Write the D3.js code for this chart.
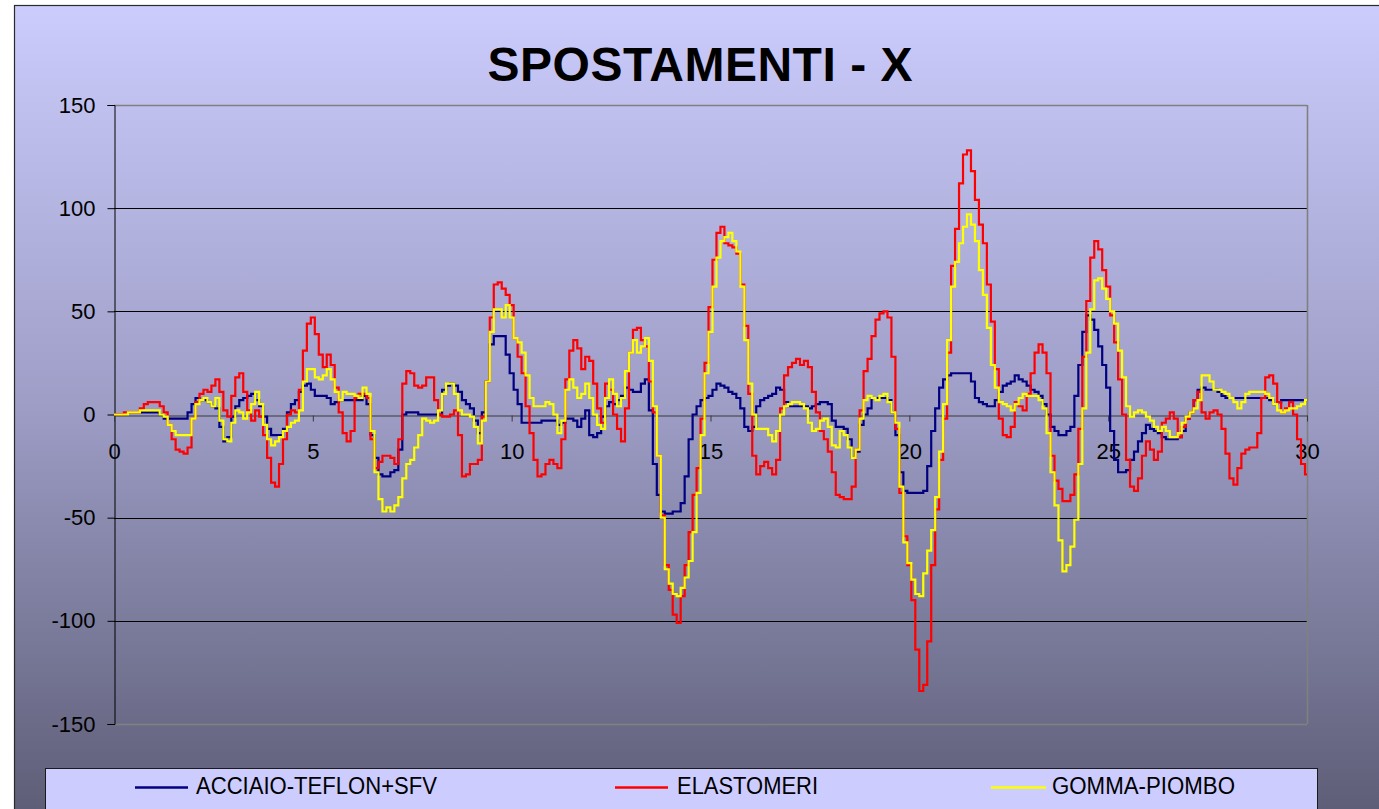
<!DOCTYPE html>
<html>
<head>
<meta charset="utf-8">
<script src="https://cdn.jsdelivr.net/npm/d3@7"></script>
<style>
  html, body { margin: 0; padding: 0; background: #ffffff; overflow: hidden; }
  svg { display: block; font-family: Arial, "Liberation Sans", sans-serif; }
</style>
</head>
<body>
<svg id="chart" width="1379" height="809"></svg>
<script>
// Time axis (s), sampled every 0.1 s from 0 to 30
const timeStep = 0.1;
const xTicks = [0, 5, 10, 15, 20, 25, 30];
const yTicks = [-150, -100, -50, 0, 50, 100, 150];

const seriesNames = ["ACCIAIO-TEFLON+SFV", "ELASTOMERI", "GOMMA-PIOMBO"];
const seriesColors = ["#000080", "#ff0000", "#ffff00"];

// ACCIAIO-TEFLON+SFV
const acciaio = [
  0,0,0,0,1,1,1,1,1,1,
  1,1,0,-2,-2,-2,-2,-2,-2,1,
  5,8,7,7,6,4,3,-6,-13,-11,
  -1,4,7,8,9,10,7,4,-1,-7,
  -10,-10,-10,-7,1,5,7,11,14,15,
  12,9,9,9,8,5,6,7,7,7,
  7,7,7,9,5,-10,-21,-29,-30,-30,
  -28,-27,-17,0,1,1,1,0,0,0,
  0,0,0,12,14,15,14,11,7,5,
  3,-3,-9,1,16,34,38,38,38,29,
  20,12,5,-4,-4,-4,-4,-4,-3,-3,
  -3,-3,-5,-4,-2,-2,-3,-6,-2,2,
  -10,-11,-9,-1,4,6,5,7,9,13,
  12,11,11,15,17,2,-24,-39,-47,-48,
  -48,-47,-47,-43,-30,-12,0,4,7,8,
  9,12,15,14,13,11,10,8,3,-6,
  -8,-6,4,7,8,9,10,13,12,6,
  4,4,4,4,4,3,4,5,6,6,
  5,-3,-6,-6,-7,-12,-21,-18,-5,0,
  3,8,8,8,8,7,1,-10,-28,-37,
  -38,-38,-38,-38,-37,-25,-8,3,13,17,
  19,20,20,20,20,20,16,8,6,5,
  4,4,7,11,14,15,16,19,17,16,
  14,12,11,9,5,0,-6,-8,-10,-10,
  -8,-6,9,24,40,48,46,41,33,24,
  13,-8,-22,-28,-28,-27,-22,-18,-13,-9,
  -5,-7,-8,-9,-11,-12,-12,-12,-11,-8,
  -2,1,7,12,13,12,12,12,11,9,
  8,8,8,8,8,8,8,8,8,8,
  8,7,5,6,7,7,7,7,7,7,
  7
];

// ELASTOMERI
const elastomeri = [
  0,0,0,1,1,1,1,3,5,6,
  6,6,4,1,-5,-12,-17,-18,-19,-16,
  -2,6,10,12,11,14,17,11,2,-1,
  9,18,20,11,2,-3,2,-1,-10,-21,
  -33,-35,-24,-12,0,2,1,12,31,44,
  47,39,29,23,29,24,13,1,-9,-13,
  -8,8,10,10,8,-12,-26,-23,-20,-20,
  -21,-24,-12,15,21,20,14,13,14,18,
  18,7,0,-1,-1,0,2,-10,-30,-29,
  -24,-24,-22,-1,16,47,63,64,61,58,
  53,37,28,20,4,-9,-22,-30,-29,-24,
  -22,-24,-26,-12,17,31,36,32,22,28,
  26,15,3,-4,15,12,0,-7,-13,3,
  30,41,42,36,33,16,1,-20,-49,-73,
  -85,-97,-101,-88,-73,-57,-39,-26,-2,25,
  52,75,88,91,83,82,81,78,63,43,
  10,-20,-29,-25,-23,-26,-29,-22,3,19,
  23,25,27,24,26,23,11,1,-8,-12,
  -18,-28,-39,-40,-41,-41,-35,-17,2,21,
  27,38,46,49,50,47,28,-7,-38,-59,
  -73,-90,-114,-134,-131,-110,-73,-46,-22,-2,
  30,72,90,112,126,128,118,104,92,83,
  63,45,22,-2,-10,-11,-6,6,4,2,
  10,20,30,34,30,20,-20,-32,-36,-42,
  -42,-39,-29,-7,28,55,76,84,80,70,
  62,48,35,17,0,-22,-35,-37,-31,-20,
  -13,-17,-22,-18,-4,-2,1,-2,-11,-6,
  -2,1,7,11,1,-2,1,2,0,-7,
  -19,-31,-34,-26,-19,-17,-16,-16,-9,8,
  18,19,15,6,1,3,6,0,-12,-24,
  -29
];

// GOMMA-PIOMBO
const gomma = [
  0,0,0,0,1,1,1,2,2,2,
  2,2,0,-1,-5,-8,-10,-10,-10,-10,
  -2,5,7,8,6,4,8,-3,-12,-13,
  -4,2,1,-2,1,5,11,5,-5,-12,
  -15,-13,-11,-8,-6,-4,-3,2,16,22,
  22,18,17,19,22,17,11,7,11,10,
  10,9,8,13,10,-8,-28,-41,-47,-45,
  -47,-44,-40,-31,-24,-22,-16,-10,-2,-3,
  -4,-3,2,10,15,15,10,2,0,0,
  -1,-6,-14,-3,16,40,51,51,47,53,
  47,37,35,30,19,8,4,4,4,6,
  5,0,-9,-3,12,17,13,8,10,15,
  8,0,-5,-7,8,17,10,4,8,21,
  30,36,30,33,37,26,4,-20,-50,-75,
  -82,-87,-88,-84,-79,-71,-57,-38,-10,20,
  40,62,76,84,86,88,84,79,62,36,
  15,0,-7,-7,-7,-10,-13,-8,0,4,
  5,6,6,5,3,-4,-8,-7,-3,-2,
  -6,-15,-16,-8,-10,-16,-21,-17,-2,7,
  9,8,7,9,10,6,1,-4,-35,-62,
  -72,-80,-87,-88,-77,-66,-56,-40,-18,5,
  36,62,74,83,91,97,92,84,70,58,
  42,24,13,6,5,4,2,5,8,10,
  9,9,9,7,3,-9,-28,-44,-61,-76,
  -73,-64,-51,-24,3,30,51,65,66,61,
  56,50,44,31,18,4,-1,1,2,1,
  -1,-3,-6,-8,-6,-8,-11,-11,-9,-4,
  -1,1,3,7,19,19,16,12,12,11,
  10,8,6,3,6,10,11,11,11,11,
  10,8,5,2,1,2,3,3,4,5,
  7
];

const allSeries = [acciaio, elastomeri, gomma];

const W = 1379, H = 809;
const svg = d3.select("#chart");

// Plain hyphen for negative tick labels
const tickFmt = d => String(d);

// Background gradient of the chart area
const defs = svg.append("defs");
const grad = defs.append("linearGradient")
  .attr("id", "bgGrad")
  .attr("gradientUnits", "userSpaceOnUse")
  .attr("x1", 0).attr("y1", 5).attr("x2", 0).attr("y2", 809);
grad.append("stop").attr("offset", "0%").attr("stop-color", "#ccccfd");
grad.append("stop").attr("offset", "50%").attr("stop-color", "#9d9dc6");
grad.append("stop").attr("offset", "100%").attr("stop-color", "#5e5e78");

svg.append("rect")
  .attr("x", 0).attr("y", 0).attr("width", W).attr("height", H)
  .attr("fill", "#ffffff");

svg.append("rect")
  .attr("x", 14.5).attr("y", 5.5)
  .attr("width", W + 20).attr("height", H + 20)
  .attr("fill", "url(#bgGrad)")
  .attr("stroke", "#2a2a2a").attr("stroke-width", 1.2);

// Scales
const x = d3.scaleLinear().domain([0, 30]).range([114, 1307]);
const y = d3.scaleLinear().domain([-150, 150]).range([724, 105]);

// Title
svg.append("text")
  .attr("x", 700).attr("y", 81)
  .attr("text-anchor", "middle")
  .attr("font-size", 48).attr("font-weight", "bold")
  .attr("fill", "#000")
  .attr("textLength", 425)
  .attr("lengthAdjust", "spacing")
  .text("SPOSTAMENTI - X");

// Horizontal gridlines
svg.append("g")
  .selectAll("line")
  .data(yTicks.filter(v => v !== 0))
  .join("line")
  .attr("x1", x(0)).attr("x2", x(30))
  .attr("y1", d => Math.round(y(d)) + 0.5)
  .attr("y2", d => Math.round(y(d)) + 0.5)
  .attr("stroke", d => (Math.abs(d) === 150 ? "#808080" : "#000000"))
  .attr("stroke-width", d => (Math.abs(d) === 150 ? 1.6 : 1));

// Right border of the plot area
svg.append("line")
  .attr("x1", x(30) + 0.5).attr("x2", x(30) + 0.5)
  .attr("y1", y(150)).attr("y2", y(-150))
  .attr("stroke", "#808080").attr("stroke-width", 1.6);

// Y axis
const yAxis = d3.axisLeft(y)
  .tickValues(yTicks)
  .tickSize(7)
  .tickPadding(12)
  .tickFormat(tickFmt);
const gy = svg.append("g")
  .attr("transform", `translate(${x(0) + 0.5},0)`)
  .call(yAxis);
gy.select(".domain").attr("stroke", "#000").attr("stroke-width", 1);
gy.selectAll(".tick line").attr("stroke", "#000");
gy.selectAll(".tick text")
  .attr("font-size", 22).attr("fill", "#000")
  .attr("font-family", "Arial, 'Liberation Sans', sans-serif");

// X axis on the zero line
const xAxis = d3.axisBottom(x)
  .tickValues(xTicks)
  .tickSize(6)
  .tickPadding(22)
  .tickSizeOuter(0)
  .tickFormat(tickFmt);
const gx = svg.append("g")
  .attr("transform", `translate(0,${Math.round(y(0)) + 0.5})`)
  .call(xAxis);
gx.select(".domain").attr("stroke", "#3a3a3a").attr("stroke-width", 1.2);
gx.selectAll(".tick line").attr("stroke", "#3a3a3a");
gx.selectAll(".tick text")
  .attr("font-size", 22).attr("fill", "#000")
  .attr("font-family", "Arial, 'Liberation Sans', sans-serif");

// Series lines (stepped, as sampled data)
const line = d3.line()
  .x((d, i) => x(i * timeStep))
  .y(d => y(d))
  .curve(d3.curveStep);

const plot = svg.append("g");
allSeries.forEach((vals, k) => {
  plot.append("path")
    .datum(vals)
    .attr("fill", "none")
    .attr("stroke", seriesColors[k])
    .attr("stroke-width", 2.2)
    .attr("stroke-linejoin", "miter")
    .attr("d", line);
});

// Legend
const legend = svg.append("g");
legend.append("rect")
  .attr("x", 45.5).attr("y", 768.5)
  .attr("width", 1272).attr("height", 80)
  .attr("fill", "#ccccff")
  .attr("stroke", "#1a1a1a").attr("stroke-width", 1);

const legendItems = [
  { x1: 135, x2: 188, tx: 196, tw: 241 },
  { x1: 615, x2: 668, tx: 677, tw: 141 },
  { x1: 991, x2: 1046, tx: 1052, tw: 183 }
];
legendItems.forEach((it, k) => {
  legend.append("line")
    .attr("x1", it.x1).attr("x2", it.x2)
    .attr("y1", 787.5).attr("y2", 787.5)
    .attr("stroke", seriesColors[k]).attr("stroke-width", 2.5);
  legend.append("text")
    .attr("x", it.tx).attr("y", 794)
    .attr("font-size", 23).attr("fill", "#000")
    .attr("textLength", it.tw)
    .attr("lengthAdjust", "spacingAndGlyphs")
    .text(seriesNames[k]);
});
</script>
</body>
</html>
